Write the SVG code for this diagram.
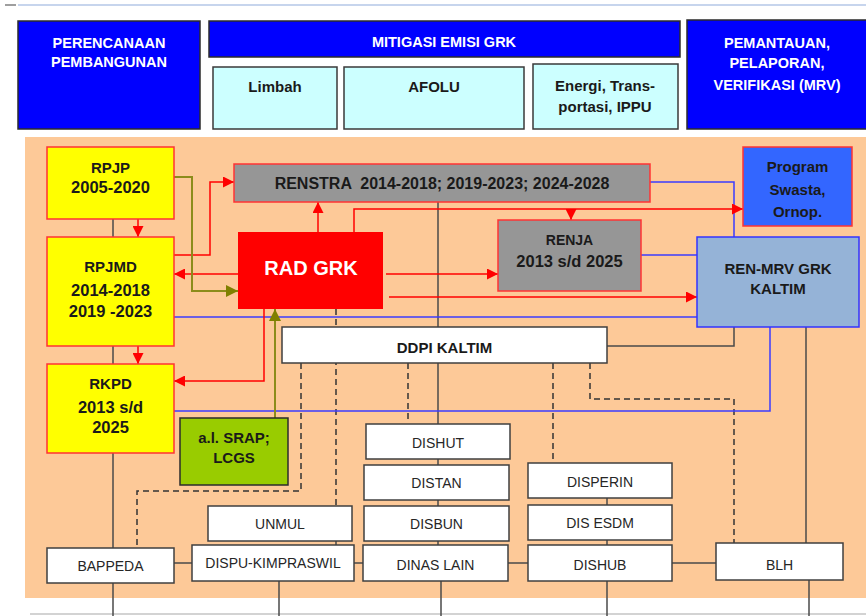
<svg xmlns="http://www.w3.org/2000/svg" width="866" height="616" viewBox="0 0 866 616">
  <style>
    .hdr { fill: #0000ff; stroke: #2b2b2b; stroke-width: 1.5; }
    .sub { fill: #ccffff; stroke: #3a3a3a; stroke-width: 1.5; }
    .ylw { fill: #ffff00; stroke: #ff3333; stroke-width: 1.5; }
    .gry { fill: #969696; stroke: #ff3333; stroke-width: 1.5; }
    .wht { fill: #ffffff; stroke: #3f3f3f; stroke-width: 1.5; }
    text { font-family: "Liberation Sans", Arial, sans-serif; text-anchor: middle; }
    .th { fill: #ffffff; font-weight: bold; font-size: 14.5px; }
    .tb { fill: #1a1a1a; font-weight: bold; font-size: 15px; }
    .tn { fill: #1a1a1a; font-weight: bold; font-size: 16.5px; }
    .tr { fill: #262626; font-size: 14px; }
    .red { fill: none; stroke: #ff0000; stroke-width: 1.5; }
    .olv { fill: none; stroke: #8c8c1a; stroke-width: 2; }
    .blu { fill: none; stroke: #3b3bff; stroke-width: 1.5; }
    .dk  { fill: none; stroke: #4a4a4a; stroke-width: 1.5; }
    .dsh { fill: none; stroke: #333333; stroke-width: 1.5; stroke-dasharray: 6 4; }
  </style>
  <defs>
    <marker id="arrRed" viewBox="0 0 10 10" refX="10" refY="5" markerWidth="11" markerHeight="11" markerUnits="userSpaceOnUse" orient="auto">
      <path d="M0,0 L10,5 L0,10 z" fill="#ff0000"/>
    </marker>
    <marker id="arrOlv" viewBox="0 0 10 10" refX="10" refY="5" markerWidth="12" markerHeight="12" markerUnits="userSpaceOnUse" orient="auto">
      <path d="M0,0 L10,5 L0,10 z" fill="#808000"/>
    </marker>
  </defs>

  <!-- page rules -->
  <line x1="5" y1="5" x2="16" y2="5" stroke="#7f7f7f" stroke-width="1.5"/>
  <line x1="18" y1="5" x2="866" y2="5" stroke="#b4c7e7" stroke-width="1.5"/>

  <!-- header row -->
  <g id="hdr-perencanaan">
    <rect class="hdr" x="18" y="21" width="182" height="108"/>
    <text class="th" x="109" y="48">PERENCANAAN</text>
    <text class="th" x="109" y="67">PEMBANGUNAN</text>
  </g>
  <g id="hdr-mitigasi">
    <rect class="hdr" x="209" y="21" width="471" height="36"/>
    <text class="th" x="444" y="47">MITIGASI EMISI GRK</text>
  </g>
  <g id="hdr-limbah">
    <rect class="sub" x="213" y="67" width="124" height="62"/>
    <text class="tb" x="275" y="92">Limbah</text>
  </g>
  <g id="hdr-afolu">
    <rect class="sub" x="344" y="67" width="180" height="62"/>
    <text class="tb" x="434" y="92">AFOLU</text>
  </g>
  <g id="hdr-energi">
    <rect class="sub" x="533" y="64" width="145" height="65"/>
    <text class="tb" x="605" y="91">Energi, Trans-</text>
    <text class="tb" x="605" y="112">portasi, IPPU</text>
  </g>
  <g id="hdr-mrv">
    <rect class="hdr" x="687" y="20" width="185" height="109"/>
    <text class="th" x="777" y="48">PEMANTAUAN,</text>
    <text class="th" x="777" y="68">PELAPORAN,</text>
    <text class="th" x="777" y="90">VERIFIKASI (MRV)</text>
  </g>

  <!-- working area -->
  <rect x="25" y="137" width="841" height="461" fill="#fdc998"/>
  <line x1="30" y1="614" x2="866" y2="614" stroke="#c4c4c4" stroke-width="1.5"/>

  <g id="connectors">
    <!-- solid structural lines -->
    <path class="dk" d="M113,219 V616"/>
    <path class="dk" d="M438,202 V545"/>
    <path class="dk" d="M441,581 V616"/>
    <path class="dk" d="M607,346 H734 V327"/>
    <path class="dk" d="M806,327 V543"/>
    <path class="dk" d="M809,580 V616"/>
    <path class="dk" d="M607,498 V616"/>
    <path class="dk" d="M279,581 V616"/>
    <path class="dk" d="M336,541 V545"/>
    <path class="dk" d="M174,563 H192 M354,563 H363 M508,563 H528 M672,563 H716"/>

    <!-- dashed coordination lines -->
    <path class="dsh" d="M336,309 V506"/>
    <path class="dsh" d="M301,363 V491 H137 V548"/>
    <path class="dsh" d="M408,363 V420"/>
    <path class="dsh" d="M553,363 V463"/>
    <path class="dsh" d="M590,363 V399 H734 V543"/>

    <!-- blue reporting lines -->
    <path class="blu" d="M650,182 H734 V237"/>
    <path class="blu" d="M641,255 H697"/>
    <path class="blu" d="M174,317 H697"/>
    <path class="blu" d="M770,327 V411 H174"/>

    <!-- red planning flows -->
    <path class="red" d="M138,219 V237" marker-end="url(#arrRed)"/>
    <path class="red" d="M138,346 V364" marker-end="url(#arrRed)"/>
    <path class="red" d="M174,255 H210 V182 H234" marker-end="url(#arrRed)"/>
    <path class="red" d="M238,274 H174" marker-end="url(#arrRed)"/>
    <path class="red" d="M318,232 V202" marker-end="url(#arrRed)"/>
    <path class="red" d="M354,232 V209 H743" marker-end="url(#arrRed)"/>
    <path class="red" d="M571,209 V220" marker-end="url(#arrRed)"/>
    <path class="red" d="M386,274 H498" marker-end="url(#arrRed)"/>
    <path class="red" d="M389,297 H697" marker-end="url(#arrRed)"/>
    <path class="red" d="M264,309 V381 H174" marker-end="url(#arrRed)"/>

    <!-- olive input flows -->
    <path class="olv" d="M174,177 H192 V291 H238" marker-end="url(#arrOlv)"/>
    <path class="olv" d="M275,418 V309" marker-end="url(#arrOlv)"/>
  </g>

  <!-- planning documents -->
  <g id="rpjp">
    <rect class="ylw" x="47" y="147" width="127" height="72"/>
    <text class="tb" x="110.5" y="173">RPJP</text>
    <text class="tn" x="110.5" y="193">2005-2020</text>
  </g>
  <g id="rpjmd">
    <rect class="ylw" x="47" y="237" width="127" height="109"/>
    <text class="tb" x="110.5" y="272">RPJMD</text>
    <text class="tn" x="110.5" y="296">2014-2018</text>
    <text class="tn" x="110.5" y="317">2019 -2023</text>
  </g>
  <g id="rkpd">
    <rect class="ylw" x="47" y="364" width="127" height="89"/>
    <text class="tb" x="110.5" y="389">RKPD</text>
    <text class="tn" x="110.5" y="413">2013 s/d</text>
    <text class="tn" x="110.5" y="433">2025</text>
  </g>
  <g id="renstra">
    <rect class="gry" x="234" y="164" width="416" height="38"/>
    <text class="tn" x="442" y="189" style="font-size:16px" xml:space="preserve">RENSTRA  2014-2018; 2019-2023; 2024-2028</text>
  </g>
  <g id="rad-grk">
    <rect x="238" y="232" width="145" height="77" fill="#ff0000"/>
    <text x="311" y="275" fill="#ffffff" font-weight="bold" font-size="20">RAD GRK</text>
  </g>
  <g id="renja">
    <rect class="gry" x="498" y="220" width="143" height="71"/>
    <text class="tb" x="569.5" y="245" style="font-size:14px">RENJA</text>
    <text class="tn" x="569.5" y="267">2013 s/d 2025</text>
  </g>
  <g id="program-swasta">
    <rect x="743" y="147" width="109" height="79" fill="#3366ff" stroke="#ff3333" stroke-width="1.5"/>
    <text class="tb" x="797.5" y="172">Program</text>
    <text class="tb" x="797.5" y="195">Swasta,</text>
    <text class="tb" x="797.5" y="217">Ornop.</text>
  </g>
  <g id="ren-mrv">
    <rect x="697" y="237" width="162" height="90" fill="#95b3d7" stroke="#3333ff" stroke-width="1.5"/>
    <text class="tb" x="778" y="274">REN-MRV GRK</text>
    <text class="tb" x="778" y="294">KALTIM</text>
  </g>
  <g id="ddpi">
    <rect class="wht" x="282" y="327" width="325" height="36"/>
    <text class="tb" x="444.5" y="353">DDPI KALTIM</text>
  </g>
  <g id="srap-lcgs">
    <rect x="180" y="418" width="108" height="67" fill="#99cc00" stroke="#2b2b2b" stroke-width="1.5"/>
    <text class="tb" x="234" y="443">a.l. SRAP;</text>
    <text class="tb" x="234" y="463">LCGS</text>
  </g>

  <!-- agencies -->
  <g id="dishut">
    <rect class="wht" x="366" y="424" width="144" height="35"/>
    <text class="tr" x="438" y="448">DISHUT</text>
  </g>
  <g id="distan">
    <rect class="wht" x="364" y="465" width="145" height="35"/>
    <text class="tr" x="436.5" y="488">DISTAN</text>
  </g>
  <g id="disbun">
    <rect class="wht" x="364" y="506" width="145" height="35"/>
    <text class="tr" x="436.5" y="529">DISBUN</text>
  </g>
  <g id="dinas-lain">
    <rect class="wht" x="363" y="545" width="145" height="36"/>
    <text class="tr" x="435.5" y="570">DINAS LAIN</text>
  </g>
  <g id="unmul">
    <rect class="wht" x="208" y="506" width="144" height="35"/>
    <text class="tr" x="280" y="529">UNMUL</text>
  </g>
  <g id="dispu">
    <rect class="wht" x="192" y="545" width="162" height="36"/>
    <text class="tr" x="273" y="568">DISPU-KIMPRASWIL</text>
  </g>
  <g id="bappeda">
    <rect class="wht" x="47" y="548" width="127" height="35"/>
    <text class="tr" x="110.5" y="571">BAPPEDA</text>
  </g>
  <g id="disperin">
    <rect class="wht" x="528" y="463" width="144" height="35"/>
    <text class="tr" x="600" y="487">DISPERIN</text>
  </g>
  <g id="dis-esdm">
    <rect class="wht" x="528" y="505" width="144" height="35"/>
    <text class="tr" x="600" y="528">DIS ESDM</text>
  </g>
  <g id="dishub">
    <rect class="wht" x="528" y="545" width="144" height="36"/>
    <text class="tr" x="600" y="570">DISHUB</text>
  </g>
  <g id="blh">
    <rect class="wht" x="716" y="543" width="127" height="37"/>
    <text class="tr" x="779.5" y="570">BLH</text>
  </g>
</svg>
